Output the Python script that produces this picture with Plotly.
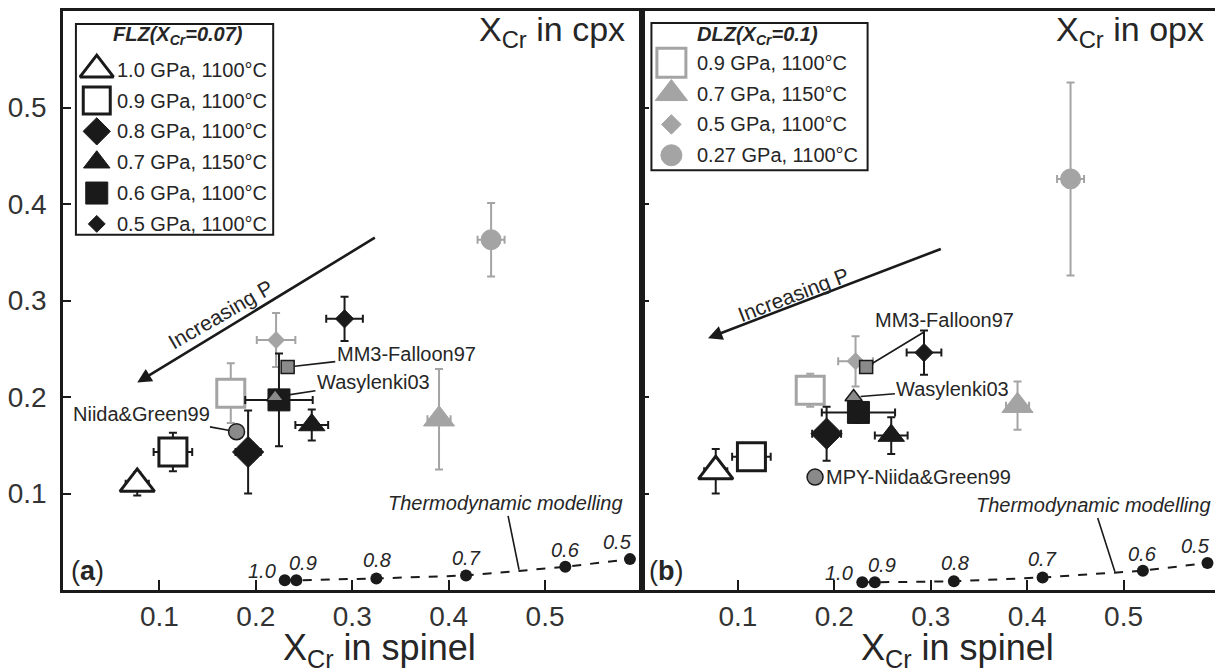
import numpy as np
import plotly.graph_objects as go

# ---------------- data ----------------
flz_labels = ["1.0 GPa, 1100°C", "0.9 GPa, 1100°C", "0.8 GPa, 1100°C",
              "0.7 GPa, 1150°C", "0.6 GPa, 1100°C", "0.5 GPa, 1100°C"]
# panel (a): X_Cr in cpx
flz_sp_cpx = [0.077, 0.114, 0.192, 0.258, 0.224, 0.292]
flz_cpx = [0.110, 0.143, 0.143, 0.171, 0.197, 0.281]
flz_sp_cpx_err = [0.012, 0.020, 0.013, 0.017, 0.035, 0.019]
flz_cpx_err = [0.012, 0.020, 0.043, 0.016, 0.048, 0.023]
# panel (b): X_Cr in opx
flz_sp_opx = [0.077, 0.114, 0.192, 0.259, 0.225, 0.293]
flz_opx = [0.123, 0.138, 0.162, 0.160, 0.184, 0.246]
flz_sp_opx_err = [0.012, 0.020, 0.015, 0.017, 0.038, 0.018]
flz_opx_err = [0.023, 0.010, 0.028, 0.019, 0.011, 0.023]

dlz_labels = ["0.9 GPa, 1100°C", "0.7 GPa, 1150°C", "0.5 GPa, 1100°C", "0.27 GPa, 1100°C"]
dlz_sp_cpx = [0.174, 0.390, 0.221, 0.444]
dlz_cpx = [0.204, 0.177, 0.259, 0.363]
dlz_sp_cpx_err = [0.012, 0.012, 0.020, 0.014]
dlz_cpx_err = [0.031, 0.052, 0.028, 0.038]
dlz_sp_opx = [0.175, 0.390, 0.222, 0.445]
dlz_opx = [0.207, 0.191, 0.237, 0.426]
dlz_sp_opx_err = [0.012, 0.012, 0.018, 0.014]
dlz_opx_err = [0.017, 0.025, 0.026, 0.100]

ref_labels_cpx = ["MM3-Falloon97", "Wasylenki03", "Niida&amp;Green99"]
ref_labels_opx = ["MM3-Falloon97", "Wasylenki03", "MPY-Niida&amp;Green99"]
ref_sp_cpx = [0.233, 0.220, 0.180]
ref_cpx = [0.231, 0.200, 0.164]
ref_sp_opx = [0.233, 0.220, 0.180]
ref_opx = [0.231, 0.200, 0.117]

thermo_p_labels = ["1.0", "0.9", "0.8", "0.7", "0.6", "0.5"]
thermo_sp_cpx = [0.230, 0.242, 0.325, 0.418, 0.521, 0.588]
thermo_cpx = [0.010, 0.010, 0.012, 0.015, 0.024, 0.032]
thermo_sp_opx = [0.229, 0.242, 0.324, 0.416, 0.520, 0.587]
thermo_opx = [0.008, 0.008, 0.009, 0.013, 0.020, 0.028]

tick_vals = [0.1, 0.2, 0.3, 0.4, 0.5]
tick_text = ["0.1", "0.2", "0.3", "0.4", "0.5"]

# ---------------- styles ----------------
INK = "#1a1a1a"
GRAY = "#a4a4a4"
REFGRAY = "#8a8a8a"
TXT = "#262626"
FONT = "Liberation Sans, Arial, sans-serif"

flz_symbols = ["triangle-up", "square", "diamond", "triangle-up", "square", "diamond"]
flz_fill = ["white", "white", INK, INK, INK, INK]
flz_lw = [3, 3, 1, 1, 1, 1]
flz_sizes = [30, 28, 24, 23, 22, 14]
flz_leg_sizes = [29, 27, 21, 23, 22, 13]

dlz_symbols = ["square", "triangle-up", "diamond", "circle"]
dlz_fill = ["white", GRAY, GRAY, GRAY]
dlz_lw = [3, 1, 1, 1]
dlz_sizes = [28, 27, 13, 20]
dlz_leg_sizes = [29, 28, 15, 21]

ref_symbols = ["square", "triangle-up", "circle"]
ref_sizes = [13, 15, 16]

fig = go.Figure()


def add_group(xs, ys, xe, ye, symbols, sizes, fills, lcol, lws, ecol, xa, ya):
    fig.add_trace(go.Scatter(
        x=xs, y=ys, mode="markers", xaxis=xa, yaxis=ya, showlegend=False,
        hoverinfo="skip",
        marker=dict(symbol=symbols, size=sizes, color=fills,
                    line=dict(color=lcol, width=lws), opacity=1),
        error_x=dict(type="data", array=xe, color=ecol, thickness=2, width=4),
        error_y=dict(type="data", array=ye, color=ecol, thickness=2, width=4),
    ))


panels = [
    dict(xa="x", ya="y", fsx=flz_sp_cpx, fy=flz_cpx, fxe=flz_sp_cpx_err, fye=flz_cpx_err,
         dsx=dlz_sp_cpx, dy=dlz_cpx, dxe=dlz_sp_cpx_err, dye=dlz_cpx_err,
         rsx=ref_sp_cpx, ry=ref_cpx, tx=thermo_sp_cpx, ty=thermo_cpx),
    dict(xa="x2", ya="y2", fsx=flz_sp_opx, fy=flz_opx, fxe=flz_sp_opx_err, fye=flz_opx_err,
         dsx=dlz_sp_opx, dy=dlz_opx, dxe=dlz_sp_opx_err, dye=dlz_opx_err,
         rsx=ref_sp_opx, ry=ref_opx, tx=thermo_sp_opx, ty=thermo_opx),
]

annotations = []
thermo_dx = [-23, 7, 1, 0, 0, -12]
thermo_dy = [9, 17, 18, 18, 17, 17]

for p in panels:
    # thermodynamic modelling path
    fig.add_trace(go.Scatter(
        x=p["tx"], y=p["ty"], mode="lines+markers", xaxis=p["xa"], yaxis=p["ya"],
        line=dict(color=INK, width=2, dash="dash"),
        marker=dict(size=12, color=INK, opacity=1), showlegend=False, hoverinfo="skip"))
    for lab, x, y, dx, dy in zip(thermo_p_labels, p["tx"], p["ty"], thermo_dx, thermo_dy):
        annotations.append(dict(x=x, y=y, xref=p["xa"], yref=p["ya"], text=f"<i>{lab}</i>",
                                showarrow=False, xshift=dx, yshift=dy,
                                font=dict(size=20, color=TXT, family=FONT)))
    add_group(p["dsx"], p["dy"], p["dxe"], p["dye"], dlz_symbols, dlz_sizes, dlz_fill,
              [GRAY] * 4, dlz_lw, GRAY, p["xa"], p["ya"])
    add_group(p["fsx"], p["fy"], p["fxe"], p["fye"], flz_symbols, flz_sizes, flz_fill,
              [INK] * 6, flz_lw, INK, p["xa"], p["ya"])
    fig.add_trace(go.Scatter(
        x=p["rsx"], y=p["ry"], mode="markers", xaxis=p["xa"], yaxis=p["ya"],
        marker=dict(symbol=ref_symbols, size=ref_sizes, color=REFGRAY, opacity=1,
                    line=dict(color=INK, width=1.5)),
        showlegend=False, hoverinfo="skip"))

# ---------------- legends (drawn on index axes y3 / y4) ----------------
leg_idx_a = np.arange(len(flz_labels))
leg_idx_b = np.arange(len(dlz_labels))
fig.add_trace(go.Scatter(
    x=[0.035] * len(flz_labels), y=leg_idx_a, xaxis="x", yaxis="y3", mode="markers",
    marker=dict(symbol=flz_symbols, size=flz_leg_sizes, color=flz_fill, opacity=1,
                line=dict(color=INK, width=flz_lw)),
    showlegend=False, hoverinfo="skip"))
fig.add_trace(go.Scatter(
    x=[0.031] * len(dlz_labels), y=leg_idx_b, xaxis="x2", yaxis="y4", mode="markers",
    marker=dict(symbol=dlz_symbols, size=dlz_leg_sizes, color=dlz_fill, opacity=1,
                line=dict(color=GRAY, width=dlz_lw)),
    showlegend=False, hoverinfo="skip"))
for i, lab in zip(leg_idx_a, flz_labels):
    annotations.append(dict(x=0.054, y=i, xref="x", yref="y3", text=lab, showarrow=False,
                            xanchor="left", font=dict(size=20, color=TXT, family=FONT)))
for i, lab in zip(leg_idx_b, dlz_labels):
    annotations.append(dict(x=0.056, y=i, xref="x2", yref="y4", text=lab, showarrow=False,
                            xanchor="left", font=dict(size=20, color=TXT, family=FONT)))
annotations.append(dict(x=0.119, y=-1.1, xref="x", yref="y3",
                        text="<b><i>FLZ(X<sub>Cr</sub>=0.07)</i></b>", showarrow=False,
                        font=dict(size=20, color=TXT, family=FONT)))
annotations.append(dict(x=0.12, y=-0.87, xref="x2", yref="y4",
                        text="<b><i>DLZ(X<sub>Cr</sub>=0.1)</i></b>", showarrow=False,
                        font=dict(size=20, color=TXT, family=FONT)))

shapes = [
    dict(type="rect", xref="x", yref="y3", x0=0.0134, x1=0.218, y0=-1.484, y1=5.355,
         line=dict(color=INK, width=2), fillcolor="rgba(0,0,0,0)"),
    dict(type="rect", xref="x2", yref="y4", x0=0.0103, x1=0.2345, y0=-1.29, y1=3.484,
         line=dict(color=INK, width=2), fillcolor="rgba(0,0,0,0)"),
]

# ---------------- reference labels ----------------
lab_font = dict(size=20, color=TXT, family=FONT)
ref_text_pos_a = [(0.356, 0.245), (0.322, 0.216), (0.0816, 0.182)]
for lab, x, y, (ax, ay) in zip(ref_labels_cpx, ref_sp_cpx, ref_cpx, ref_text_pos_a):
    annotations.append(dict(x=x, y=y, xref="x", yref="y", ax=ax, ay=ay, axref="x", ayref="y",
                            text=lab, showarrow=True, arrowhead=0, arrowwidth=1.6,
                            arrowcolor=INK, standoff=7, font=lab_font))
ref_text_pos_b = [(0.314, 0.280), (0.323, 0.208)]
for lab, x, y, (ax, ay) in zip(ref_labels_opx[:2], ref_sp_opx, ref_opx, ref_text_pos_b):
    annotations.append(dict(x=x, y=y, xref="x2", yref="y2", ax=ax, ay=ay, axref="x2", ayref="y2",
                            text=lab, showarrow=True, arrowhead=0, arrowwidth=1.6,
                            arrowcolor=INK, standoff=7, font=lab_font))
annotations.append(dict(x=ref_sp_opx[2], y=ref_opx[2], xref="x2", yref="y2", xshift=9,
                        text=ref_labels_opx[2], showarrow=False, xanchor="left", font=lab_font))

# thermodynamic modelling labels
annotations.append(dict(x=0.473, y=0.021, ax=0.459, ay=0.0897, xref="x", yref="y", axref="x",
                        ayref="y", text="<i>Thermodynamic modelling</i>", showarrow=True,
                        arrowhead=0, arrowwidth=1.6, arrowcolor=INK, font=lab_font))
annotations.append(dict(x=0.491, y=0.019, ax=0.469, ay=0.0876, xref="x2", yref="y2", axref="x2",
                        ayref="y2", text="<i>Thermodynamic modelling</i>", showarrow=True,
                        arrowhead=0, arrowwidth=1.6, arrowcolor=INK, font=lab_font))

# Increasing P arrows + text
annotations.append(dict(x=0.077, y=0.215, ax=0.325, ay=0.366, xref="x", yref="y", axref="x",
                        ayref="y", text="", showarrow=True, arrowhead=2, arrowsize=1.1,
                        arrowwidth=2.6, arrowcolor=INK))
annotations.append(dict(x=0.163, y=0.286, xref="x", yref="y", text="Increasing P",
                        showarrow=False, textangle=-30, font=dict(size=21, color=TXT, family=FONT)))
annotations.append(dict(x=0.069, y=0.261, ax=0.312, ay=0.354, xref="x2", yref="y2", axref="x2",
                        ayref="y2", text="", showarrow=True, arrowhead=2, arrowsize=1.1,
                        arrowwidth=2.6, arrowcolor=INK))
annotations.append(dict(x=0.158, y=0.306, xref="x2", yref="y2", text="Increasing P",
                        showarrow=False, textangle=-21, font=dict(size=21, color=TXT, family=FONT)))

# panel titles, panel letters, x titles
for xa, ya, name, letter in [("x", "y", "cpx", "a"), ("x2", "y2", "opx", "b")]:
    annotations.append(dict(x=0.975, y=0.965, xref=f"{xa} domain", yref=f"{ya} domain",
                            xanchor="right", yanchor="middle", showarrow=False,
                            text=f"X<sub>Cr</sub> in {name}",
                            font=dict(size=34, color=TXT, family=FONT)))
    annotations.append(dict(x=0.01, y=0.033, xref=f"{xa} domain", yref=f"{ya} domain",
                            xanchor="left", yanchor="middle", showarrow=False,
                            text=f"(<b>{letter}</b>)",
                            font=dict(size=27, color=TXT, family=FONT)))
    annotations.append(dict(x=0.328, y=-0.104, xref=xa, yref=f"{ya} domain",
                            xanchor="center", yanchor="middle", showarrow=False,
                            text="X<sub>Cr</sub> in spinel",
                            font=dict(size=36, color=TXT, family=FONT)))

axis_common = dict(range=[0, 0.6], tickvals=tick_vals, ticktext=tick_text, ticks="inside",
                   tickwidth=2, tickcolor=INK, showline=True, linewidth=2.5, linecolor=INK,
                   mirror=True, showgrid=False, zeroline=False, fixedrange=True,
                   tickfont=dict(size=28, color="#333333", family=FONT))

# the page body adds an 8px margin, so the figure is sized to fill the rest of the window
fig.update_layout(
    width=1215, height=662,
    margin=dict(l=54, r=1, t=0, b=80),
    paper_bgcolor="white", plot_bgcolor="white",
    xaxis=dict(domain=[0, 0.5], anchor="y", ticklen=10, ticklabelstandoff=0, **axis_common),
    yaxis=dict(domain=[0, 1], anchor="x", ticklen=8, ticklabelstandoff=8, **axis_common),
    xaxis2=dict(domain=[0.5, 1], anchor="y2", ticklen=10, ticklabelstandoff=0, **axis_common),
    yaxis2=dict(domain=[0, 1], anchor="x2", ticklen=8, showticklabels=False, **axis_common),
    yaxis3=dict(overlaying="y", anchor="x", range=[16.871, -1.903], visible=False,
                fixedrange=True),
    yaxis4=dict(overlaying="y2", anchor="x2", range=[17.097, -1.677], visible=False,
                fixedrange=True),
    annotations=annotations,
    shapes=shapes,
    showlegend=False,
    font=dict(family=FONT, color=TXT),
)

fig.write_html("out.html")
